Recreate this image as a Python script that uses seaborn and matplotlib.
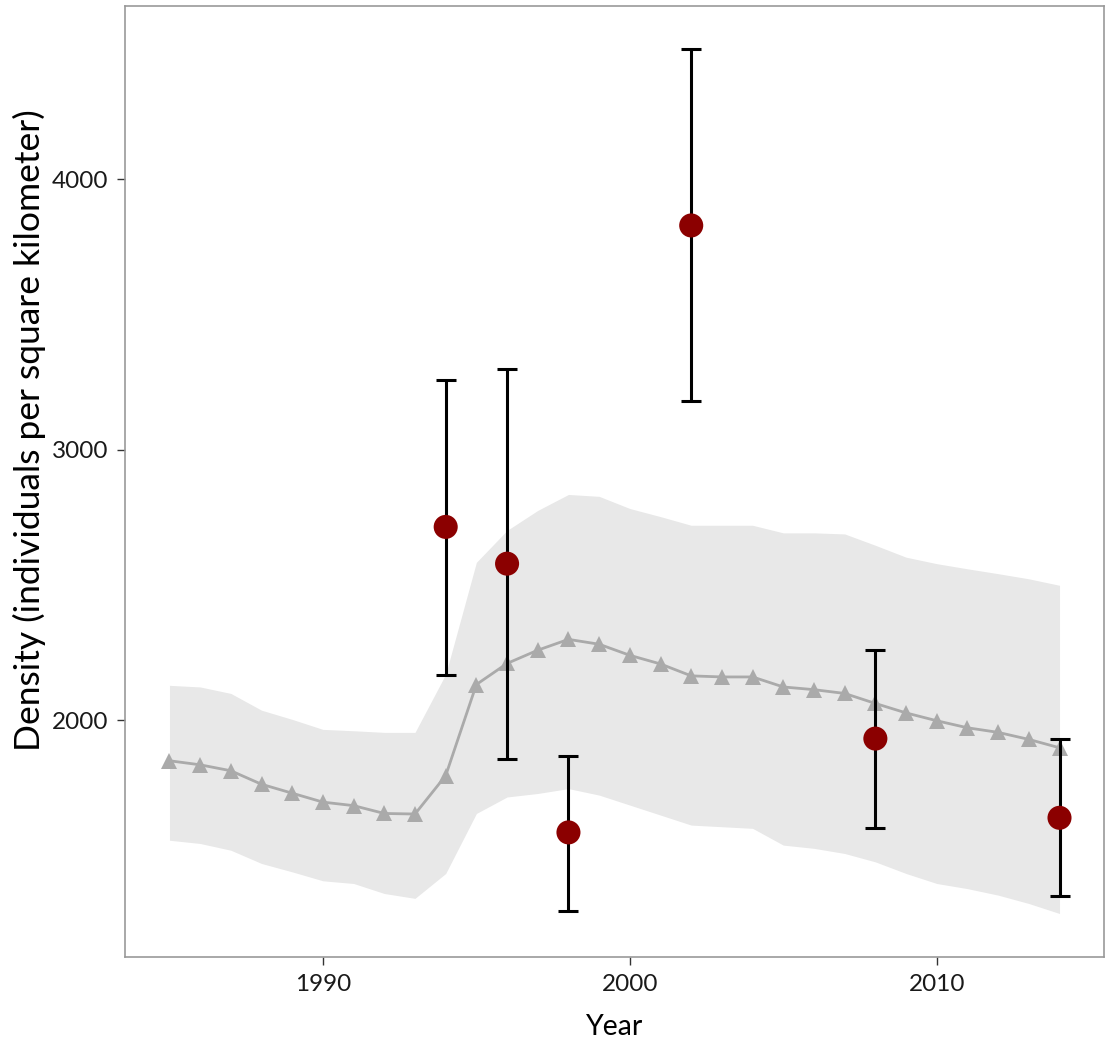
import matplotlib
matplotlib.use("Agg")
import matplotlib.pyplot as plt
import seaborn as sns
import pandas as pd

# Modelled trend (annual estimates with uncertainty band)
years = list(range(1985, 2015))
trend = [1850, 1835, 1813, 1763, 1730, 1697, 1684, 1655, 1653, 1795,
         2132, 2210, 2259, 2299, 2281, 2240, 2208, 2164, 2160, 2160,
         2123, 2113, 2099, 2062, 2027, 1998, 1972, 1955, 1929, 1898]
trend_upper = [2129, 2123, 2099, 2037, 2003, 1966, 1961, 1955, 1955, 2170,
               2584, 2702, 2776, 2835, 2828, 2783, 2753, 2721, 2721, 2721,
               2693, 2693, 2689, 2647, 2603, 2579, 2560, 2542, 2523, 2499]
trend_lower = [1556, 1544, 1519, 1470, 1439, 1406, 1396, 1359, 1341, 1433,
               1655, 1716, 1729, 1747, 1723, 1686, 1649, 1612, 1606, 1600,
               1538, 1526, 1507, 1476, 1433, 1396, 1377, 1353, 1322, 1285]

# Survey estimates with confidence intervals
survey_years = [1994, 1996, 1998, 2002, 2008, 2014]
survey_density = [2715, 2579, 1585, 3830, 1932, 1639]
survey_lower = [2166, 1856, 1295, 3179, 1602, 1350]
survey_upper = [3257, 3298, 1868, 4481, 2259, 1930]

trend_df = pd.DataFrame({"Year": years, "Density": trend,
                         "lo": trend_lower, "hi": trend_upper})
survey_df = pd.DataFrame({"Year": survey_years, "Density": survey_density,
                          "lo": survey_lower, "hi": survey_upper})

sns.set_style("white")
plt.rcParams["font.family"] = ["Lato", "DejaVu Sans"]

fig = plt.figure(figsize=(11.05, 10.44), dpi=100)
ax = fig.add_axes([0.1131, 0.0833, 0.886, 0.9105])

ax.fill_between(trend_df["Year"], trend_df["lo"], trend_df["hi"],
                color="#e8e8e8", linewidth=0, zorder=1)
sns.lineplot(data=trend_df, x="Year", y="Density", ax=ax, color="#aaaaaa",
             linewidth=2, marker="^", markersize=11, markeredgewidth=0,
             zorder=2)

ax.errorbar(survey_df["Year"], survey_df["Density"],
            yerr=[survey_df["Density"] - survey_df["lo"],
                  survey_df["hi"] - survey_df["Density"]],
            fmt="none", ecolor="black", elinewidth=2.2, capsize=7.5,
            capthick=2.2, zorder=3)
sns.scatterplot(data=survey_df, x="Year", y="Density", ax=ax,
                color="#8b0000", s=300, edgecolor="none", zorder=4)

ax.set_xlim(1983.55, 2015.45)
ax.set_ylim(1124, 4640)
ax.set_xticks([1990, 2000, 2010])
ax.set_yticks([2000, 3000, 4000])
ax.tick_params(axis="both", bottom=True, left=True, direction="out",
               length=6, width=1, color="#333333", labelsize=17.5,
               labelcolor="#1a1a1a", pad=6)
for sp in ax.spines.values():
    sp.set_color("#999999")
    sp.set_linewidth(1.2)

ax.set_xlabel("Year", fontsize=20.5, color="black", labelpad=14)
ax.set_ylabel("Density (individuals per square kilometer)", fontsize=25.5,
              color="black", labelpad=4)
ax.yaxis.label.set_y(0.554)

fig.savefig("out.png", dpi=100)
